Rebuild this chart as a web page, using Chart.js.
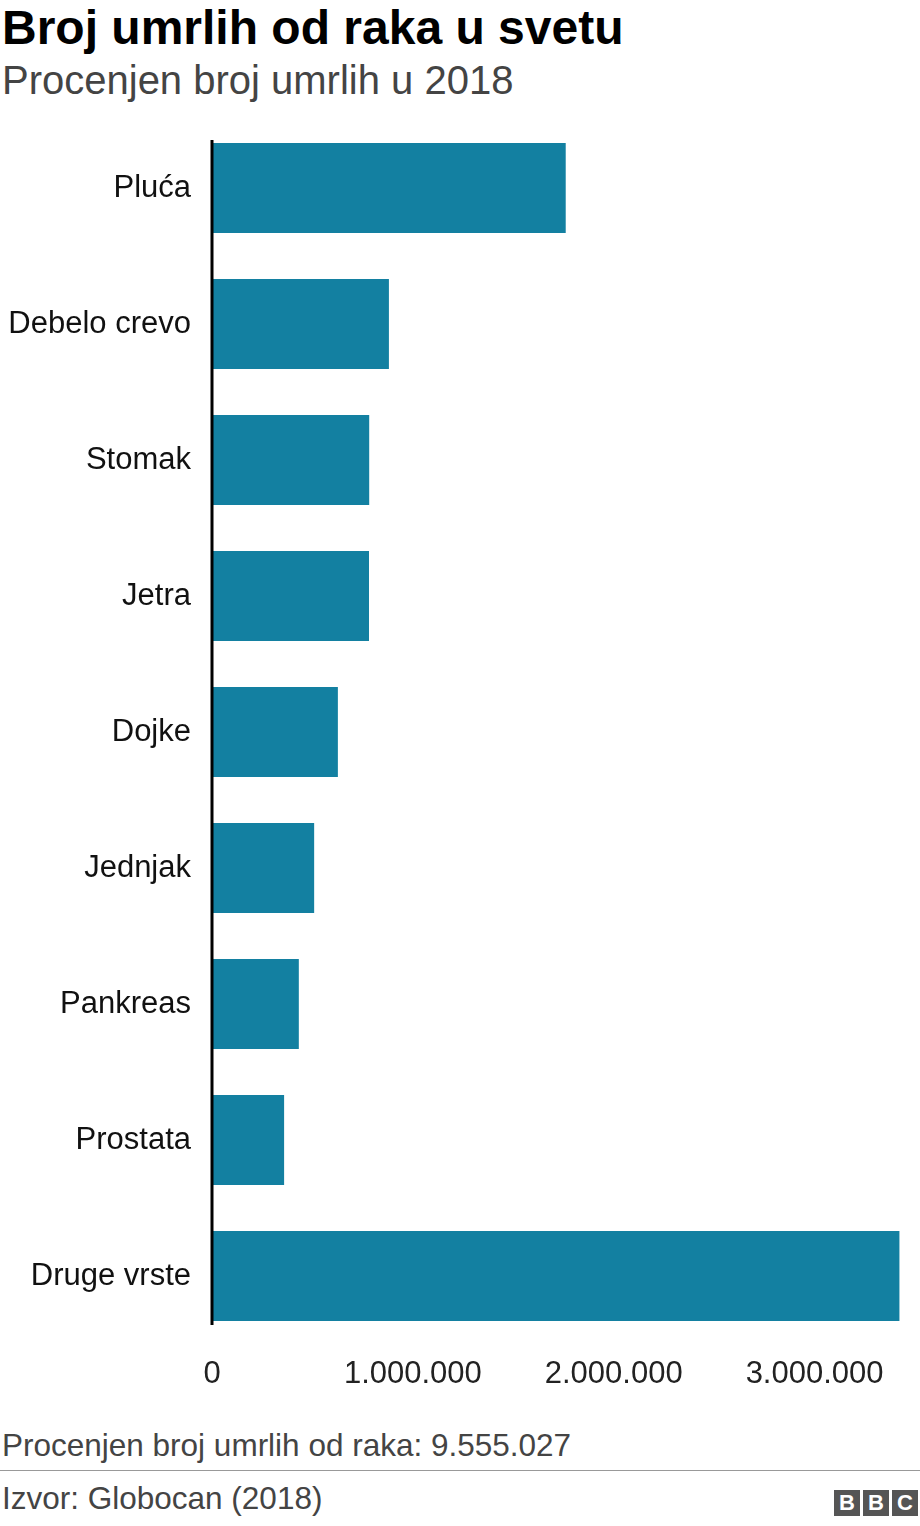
<!DOCTYPE html>
<html><head><meta charset="utf-8">
<script src="https://cdn.jsdelivr.net/npm/chart.js@4"></script>
<style>
body{margin:0;width:920px;height:1526px;position:relative;font-family:Arial,"Liberation Sans",sans-serif;background:#fff;overflow:hidden}
#t{position:absolute;left:2px;top:0px;font-size:48px;font-weight:bold;color:#000}
#s{position:absolute;left:2px;top:58px;font-size:40px;color:#444}
#c{position:absolute;left:0;top:0}
#n{position:absolute;left:2px;top:1427px;font-size:31.5px;color:#444}
#hr{position:absolute;left:0;top:1470px;width:920px;height:1px;background:#999}
#src{position:absolute;left:2px;top:1480px;font-size:31.5px;color:#444}
#bbc{position:absolute;right:2px;top:1490px;display:flex;gap:3px}
#bbc span{width:26px;height:26px;background:#555;color:#fff;font-weight:bold;font-size:22px;text-align:center;line-height:26px}
</style></head><body>
<div id="t">Broj umrlih od raka u svetu</div>
<div id="s">Procenjen broj umrlih u 2018</div>
<canvas id="c"></canvas>
<div id="n">Procenjen broj umrlih od raka: 9.555.027</div>
<div id="hr"></div>
<div id="src">Izvor: Globocan (2018)</div>
<div id="bbc"><span>B</span><span>B</span><span>C</span></div>
<script>
const categories=["Pluća","Debelo crevo","Stomak","Jetra","Dojke","Jednjak","Pankreas","Prostata","Druge vrste"];
const deaths=[1761007,880792,782685,781631,626679,508585,432242,358989,3422417];
const tickValues=[0,1000000,2000000,3000000];
const cv=document.getElementById('c');
cv.style.width='920px';cv.style.height='1410px';
const axisLine={id:'axisLine',afterDatasetsDraw(ch){const c=ch.ctx,x=ch.scales.x.getPixelForValue(0);c.save();c.strokeStyle='#000';c.lineWidth=3;c.beginPath();c.moveTo(x,140);c.lineTo(x,1325);c.stroke();c.restore();}};
new Chart(cv,{type:'bar',data:{labels:categories,datasets:[{data:deaths,backgroundColor:'#1380A1',barPercentage:0.66,categoryPercentage:1}]},
options:{indexAxis:'y',responsive:false,animation:false,devicePixelRatio:1,
layout:{padding:{top:120,right:8,bottom:0,left:0}},
plugins:{legend:{display:false},tooltip:{enabled:false}},
scales:{
x:{min:0,max:3485000,grid:{display:false},border:{display:false},afterFit(a){a.height=66;},
 afterBuildTicks(a){a.ticks=tickValues.map(v=>({value:v}));},
 ticks:{color:'#222',font:{size:31,family:'Arial, Liberation Sans'},padding:4,maxRotation:0,callback:v=>v.toString().replace(/\B(?=(\d{3})+(?!\d))/g,'.')}},
y:{grid:{display:false},border:{display:false},afterFit(a){a.width=212;},
 ticks:{color:'#111',font:{size:31,family:'Arial, Liberation Sans'},padding:13}}}},
plugins:[axisLine]});
</script></body></html>
